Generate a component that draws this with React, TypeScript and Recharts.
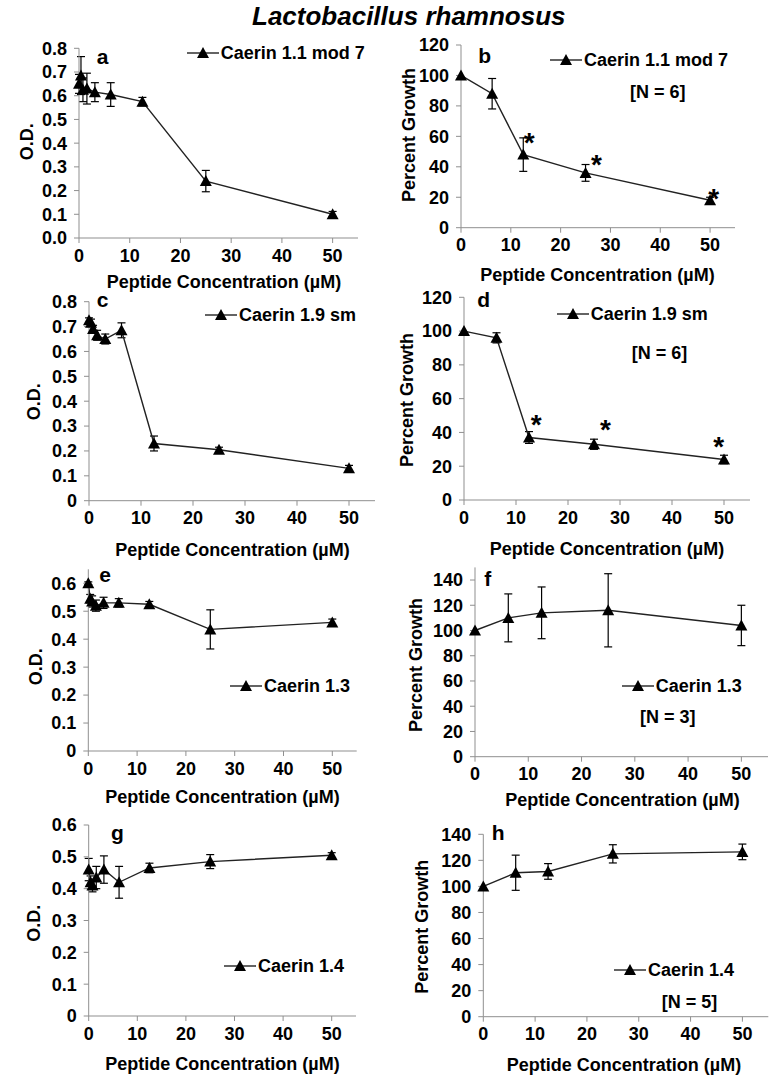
import React from 'react';
import { ComposedChart, Line, XAxis, YAxis, ErrorBar, Scatter, Legend } from 'recharts';

const FONT = '"Liberation Sans", Arial, Helvetica, sans-serif';

// ---------- data ----------
const concFine = [0, 0.39, 0.78, 1.56, 3.13, 6.25, 12.5, 25, 50];
const concMain = [0, 6.25, 12.5, 25, 50];
const xTicks = [0, 10, 20, 30, 40, 50];
const odTicks8 = [0, 0.1, 0.2, 0.3, 0.4, 0.5, 0.6, 0.7, 0.8];
const odTicks6 = [0, 0.1, 0.2, 0.3, 0.4, 0.5, 0.6];
const pgTicks120 = [0, 20, 40, 60, 80, 100, 120];
const pgTicks140 = [0, 20, 40, 60, 80, 100, 120, 140];

// a: Caerin 1.1 mod 7 (O.D.)
const odA = [0.65, 0.685, 0.625, 0.63, 0.615, 0.605, 0.575, 0.24, 0.1];
const odAErr = [0.04, 0.08, 0.05, 0.065, 0.04, 0.05, 0.018, 0.045, 0.012];
// b: Caerin 1.1 mod 7 (% growth)
const pgB = [100, 88, 48, 36, 18];
const pgBErr = [0, 10, 11, 5.5, 2];
const starXB = [13.7, 27.2, 50.7];
const starYB = [60, 45.5, 23.5];
// c: Caerin 1.9 sm (O.D.)
const odC = [0.725, 0.715, 0.69, 0.665, 0.65, 0.685, 0.23, 0.205, 0.13];
const odCErr = [0.01, 0.015, 0.015, 0.02, 0.02, 0.03, 0.03, 0.01, 0.012];
// d: Caerin 1.9 sm (% growth)
const pgD = [100, 96, 37, 33, 24];
const pgDErr = [0, 3, 3.5, 3, 2.5];
const starXD = [13.9, 27.2, 49];
const starYD = [48.5, 45.4, 35.5];
// e: Caerin 1.3 (O.D.)
const odE = [0.6, 0.545, 0.535, 0.52, 0.53, 0.53, 0.525, 0.435, 0.46];
const odEErr = [0.005, 0.015, 0.02, 0.02, 0.02, 0.015, 0.01, 0.07, 0.012];
// f: Caerin 1.3 (% growth)
const pgF = [100, 110, 114, 116, 104];
const pgFErr = [0, 19, 20.5, 29, 16];
// g: Caerin 1.4 (O.D.)
const odG = [0.46, 0.42, 0.41, 0.435, 0.46, 0.42, 0.465, 0.485, 0.505];
const odGErr = [0.035, 0.02, 0.02, 0.035, 0.043, 0.05, 0.015, 0.022, 0.008];
// h: Caerin 1.4 (% growth)
const pgH = [100, 110.5, 111.5, 125, 126.5];
const pgHErr = [0, 13.5, 6, 7, 6];

const fmtOD1 = (v: number) => v.toFixed(1);
const fmtOD = (v: number) => (v === 0 ? '0' : v.toFixed(1));
const fmtInt = (v: number) => String(v);

const Tri = (p: any) => {
  const { cx, cy, index } = p;
  if (cx == null || cy == null) return <g key={`t${index}`} />;
  return (
    <polygon
      key={`t${index}`}
      points={`${cx},${cy - 6} ${cx - 6},${cy + 5} ${cx + 6},${cy + 5}`}
      fill="#000"
    />
  );
};

const Star = (p: any) => {
  const { cx, cy } = p;
  if (cx == null || cy == null) return <g />;
  return (
    <text x={cx} y={cy + 16} textAnchor="middle" fontFamily={FONT} fontWeight="bold" fontSize={28} fill="#000">
      *
    </text>
  );
};

const LegendBox = ({ name }: { name: string }) => (
  <div
    style={{
      display: 'flex',
      alignItems: 'center',
      height: 22,
      lineHeight: '22px',
      fontFamily: FONT,
      fontWeight: 'bold',
      fontSize: 18,
      color: '#000',
      whiteSpace: 'nowrap',
    }}
  >
    <svg width={32} height={14} style={{ display: 'block' }}>
      <line x1={0} y1={7} x2={32} y2={7} stroke="#222" strokeWidth={1.4} />
      <polygon points="16,1 10,12 22,12" fill="#000" />
    </svg>
    <span style={{ marginLeft: 2 }}>{name}</span>
  </div>
);

type PanelCfg = {
  box: [number, number, number, number];
  plot: { L: number; R: number; T: number; B: number };
  x: number[];
  y: number[];
  err: number[];
  yMax: number;
  yTicks: number[];
  fmt: (v: number) => string;
  name: string;
  legendPos: [number, number];
  letter: string;
  letterPos: [number, number];
  nText?: string;
  nPos?: [number, number];
  yTitle: string;
  yTitlePos: [number, number];
  xTitlePos: [number, number];
  starX?: number[];
  starY?: number[];
};

const XTITLE = 'Peptide Concentration (µM)';

const panels: PanelCfg[] = [
  {
    box: [0, 28, 390, 262], plot: { L: 79, R: 358, T: 48.3, B: 238 },
    x: concFine, y: odA, err: odAErr, yMax: 0.8, yTicks: odTicks8, fmt: fmtOD1,
    name: 'Caerin 1.1 mod 7', legendPos: [186.7, 53.3], letter: 'a', letterPos: [96.7, 64.3],
    yTitle: 'O.D.', yTitlePos: [33.3, 141.7], xTitlePos: [224, 287.5],
  },
  {
    box: [390, 28, 393, 262], plot: { L: 461, R: 735, T: 45, B: 227.7 },
    x: concMain, y: pgB, err: pgBErr, yMax: 120, yTicks: pgTicks120, fmt: fmtInt,
    name: 'Caerin 1.1 mod 7', legendPos: [550, 60], letter: 'b', letterPos: [478.3, 63.3],
    nText: '[N = 6]', nPos: [630, 98.3],
    yTitle: 'Percent Growth', yTitlePos: [415, 135], xTitlePos: [597.5, 281],
    starX: starXB, starY: starYB,
  },
  {
    box: [0, 290, 390, 265], plot: { L: 89, R: 375, T: 301.7, B: 500.7 },
    x: concFine, y: odC, err: odCErr, yMax: 0.8, yTicks: odTicks8, fmt: fmtOD,
    name: 'Caerin 1.9 sm', legendPos: [205, 315], letter: 'c', letterPos: [96.7, 306.7],
    yTitle: 'O.D.', yTitlePos: [40, 401.7], xTitlePos: [232.5, 556],
  },
  {
    box: [390, 290, 393, 265], plot: { L: 464, R: 750, T: 297.3, B: 500 },
    x: concMain, y: pgD, err: pgDErr, yMax: 120, yTicks: pgTicks120, fmt: fmtInt,
    name: 'Caerin 1.9 sm', legendPos: [556.7, 314], letter: 'd', letterPos: [477.3, 306.7],
    nText: '[N = 6]', nPos: [631.7, 359.3],
    yTitle: 'Percent Growth', yTitlePos: [412.7, 400], xTitlePos: [607, 554.5],
    starX: starXD, starY: starYD,
  },
  {
    box: [0, 555, 390, 255], plot: { L: 88.3, R: 356.7, T: 569.3, B: 751 },
    x: concFine, y: odE, err: odEErr, yMax: 0.65, yTicks: odTicks6, fmt: fmtOD,
    name: 'Caerin 1.3', legendPos: [230, 685.7], letter: 'e', letterPos: [99.3, 581.7],
    yTitle: 'O.D.', yTitlePos: [41.7, 666.7], xTitlePos: [222.5, 803],
  },
  {
    box: [390, 555, 393, 255], plot: { L: 475, R: 768, T: 567.4, B: 756.7 },
    x: concMain, y: pgF, err: pgFErr, yMax: 150, yTicks: pgTicks140, fmt: fmtInt,
    name: 'Caerin 1.3', legendPos: [621.7, 685.7], letter: 'f', letterPos: [484.3, 586],
    nText: '[N = 3]', nPos: [640, 722.7],
    yTitle: 'Percent Growth', yTitlePos: [422.3, 665], xTitlePos: [622.5, 806],
  },
  {
    box: [0, 810, 390, 272], plot: { L: 88.7, R: 356, T: 825, B: 1016 },
    x: concFine, y: odG, err: odGErr, yMax: 0.6, yTicks: odTicks6, fmt: fmtOD,
    name: 'Caerin 1.4', legendPos: [224, 966], letter: 'g', letterPos: [111, 840],
    yTitle: 'O.D.', yTitlePos: [40, 923.3], xTitlePos: [222.5, 1069.5],
  },
  {
    box: [390, 810, 393, 272], plot: { L: 483.3, R: 768.3, T: 834.3, B: 1016.7 },
    x: concMain, y: pgH, err: pgHErr, yMax: 140, yTicks: pgTicks140, fmt: fmtInt,
    name: 'Caerin 1.4', legendPos: [614, 970], letter: 'h', letterPos: [491.7, 840],
    nText: '[N = 5]', nPos: [661.7, 1008.3],
    yTitle: 'Percent Growth', yTitlePos: [428, 926.7], xTitlePos: [624, 1071],
  },
];

const tickStyle = { fill: '#000', fontSize: 18, fontWeight: 'bold', fontFamily: FONT };
const AXIS = '#8f8f8f';

function Panel({ p }: { p: PanelCfg }) {
  const [bx, by, bw, bh] = p.box;
  const YW = 60;
  const XH = 30;
  const margin = {
    left: p.plot.L - bx - YW,
    right: bx + bw - p.plot.R,
    top: p.plot.T - by,
    bottom: by + bh - p.plot.B - XH,
  };
  const data = p.x.map((xv, i) => ({ x: xv, y: p.y[i], e: p.err[i] }));
  const stars = p.starX && p.starY ? p.starX.map((xv, i) => ({ x: xv, y: p.starY![i] })) : [];
  const txt = { fontFamily: FONT, fontWeight: 'bold' as const, fill: '#000' };
  return (
    <div style={{ position: 'absolute', left: bx, top: by }}>
      <ComposedChart width={bw} height={bh} data={data} margin={margin}>
        <XAxis
          dataKey="x" type="number" domain={[0, 55]} ticks={xTicks} interval={0}
          height={XH} stroke={AXIS} tickSize={5} tickMargin={6} tick={tickStyle}
        />
        <YAxis
          type="number" domain={[0, p.yMax]} ticks={p.yTicks} interval={0} width={YW}
          stroke={AXIS} tickSize={5} tickMargin={7} tick={tickStyle} tickFormatter={p.fmt}
        />
        <Line
          dataKey="y" name={p.name} stroke="#222" strokeWidth={1.4} dot={Tri} activeDot={false}
          isAnimationActive={false}
        >
          <ErrorBar dataKey="e" width={4} stroke="#000" strokeWidth={1.2} direction="y" />
        </Line>
        {stars.length > 0 && (
          <Scatter data={stars} dataKey="y" shape={Star} isAnimationActive={false} legendType="none" />
        )}
        <Legend
          layout="horizontal" verticalAlign="middle" align="center"
          wrapperStyle={{ left: p.legendPos[0] - bx, top: p.legendPos[1] - by - 11, width: 'auto', height: 22 }}
          content={() => <LegendBox name={p.name} />}
        />
        <text x={p.letterPos[0] - bx} y={p.letterPos[1] - by} fontSize={21} {...txt}>{p.letter}</text>
        {p.nText && p.nPos && (
          <text x={p.nPos[0] - bx} y={p.nPos[1] - by} fontSize={18} {...txt}>{p.nText}</text>
        )}
        <text
          x={p.yTitlePos[0] - bx} y={p.yTitlePos[1] - by} fontSize={18} textAnchor="middle"
          transform={`rotate(-90 ${p.yTitlePos[0] - bx} ${p.yTitlePos[1] - by})`} {...txt}
        >
          {p.yTitle}
        </text>
        <text x={p.xTitlePos[0] - bx} y={p.xTitlePos[1] - by} fontSize={18} textAnchor="middle" {...txt}>
          {XTITLE}
        </text>
      </ComposedChart>
    </div>
  );
}

export default function App() {
  return (
    <div style={{ position: 'absolute', left: 0, top: 0, width: 783, height: 1082, background: '#fff' }}>
      <style>{'.recharts-surface{overflow:visible}'}</style>
      <svg width={783} height={30} style={{ position: 'absolute', left: 0, top: 0, overflow: 'visible' }}>
        <text x={252} y={24.5} fontFamily={FONT} fontWeight="bold" fontStyle="italic" fontSize={26} fill="#000">
          Lactobacillus rhamnosus
        </text>
      </svg>
      {panels.map((p, i) => (
        <Panel key={i} p={p} />
      ))}
    </div>
  );
}
